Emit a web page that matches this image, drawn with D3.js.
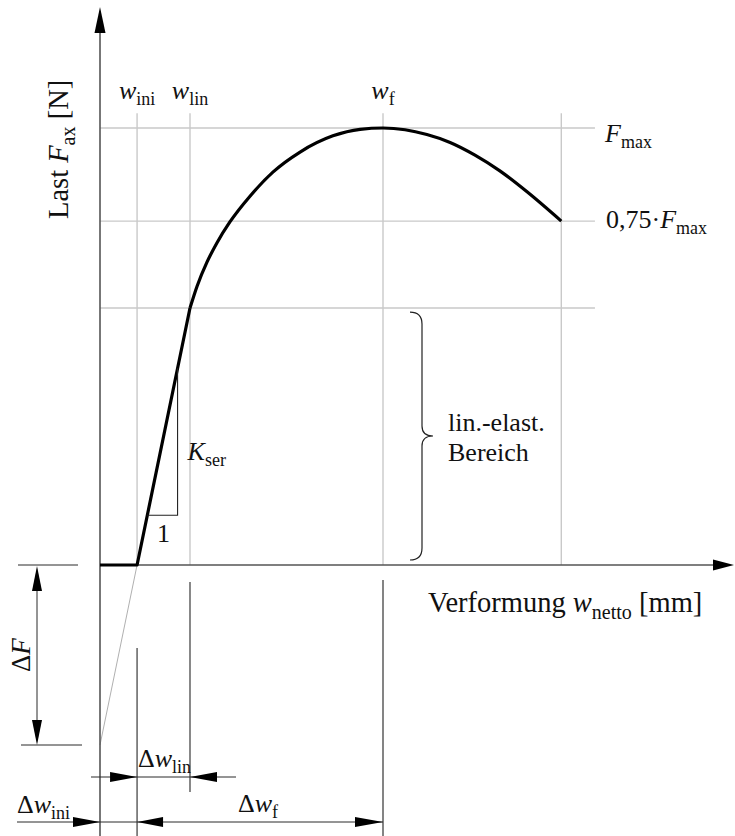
<!DOCTYPE html>
<html>
<head>
<meta charset="utf-8">
<script src="https://cdn.jsdelivr.net/npm/d3@7"></script>
<style>
  body { margin: 0; background: #fff; }
  svg text { font-family: "Liberation Serif", "Times New Roman", "DejaVu Serif", serif; fill: #111; }
</style>
</head>
<body>
<svg id="chart"></svg>
<script>
// Schematic load–displacement curve of an axially loaded connection.
// w: net deformation (relative units, w_f = 10), F: load in % of F_max.
const curveW = [0, 1.31, 3.18, 3.43, 3.78, 4.13, 4.59, 5.30, 6.11, 7.07, 8.23, 9.19, 10.0,
                10.78, 11.55, 12.37, 13.25, 14.13, 15.09, 16.3];
const curveF = [0, 0, 58.8, 63.8, 69.3, 73.7, 78.5, 84.4, 89.9, 94.5, 98.2, 99.7, 100,
                99.6, 98.5, 96.7, 93.8, 90.2, 85.4, 78.7];

// Characteristic deformations: w_ini, w_lin, w_f and the end of the curve
const wKeys = ["ini", "lin", "f"];
const wValues = [1.31, 3.18, 10.0];
const wLast = 16.3;

// Characteristic load levels: F_max, 0,75·F_max, end of the linear-elastic range
const levelKeys = ["max", "075", "lin"];
const levelF = [100, 78.7, 58.8];

const W = 735, H = 836;
const svg = d3.select("#chart").attr("width", W).attr("height", H)
  .attr("font-family", "'Liberation Serif', 'Times New Roman', serif");

const x = d3.scaleLinear().domain([0, 10]).range([100, 383]);
const y = d3.scaleLinear().domain([0, 100]).range([565, 128]);

const gridColor = "#c9c9c9";
const axisColor = "#555";
const dimColor = "#2a2a2a";

// Rich text helper: parts = [[text, italic, sub], ...]
function rich(g, px, py, parts, opts = {}) {
  const size = opts.size || 26, subSize = opts.subSize || 18, shift = opts.shift || 6;
  const t = g.append("text").attr("text-anchor", opts.anchor || "start").style("font-size", size + "px");
  if (opts.transform) t.attr("transform", opts.transform); else t.attr("x", px).attr("y", py);
  let shifted = false;
  parts.forEach(([s, it, sub]) => {
    const ts = t.append("tspan").text(s);
    if (it) ts.style("font-style", "italic");
    if (sub) { ts.style("font-size", subSize + "px"); if (!shifted) { ts.attr("dy", shift); shifted = true; } }
    else if (shifted) { ts.attr("dy", -shift); shifted = false; }
  });
  return t;
}

// Filled arrow head, tip at (tx, ty)
function arrowHead(g, tx, ty, dir, len = 26, half = 5) {
  const d = {
    up:    [[tx, ty], [tx - half, ty + len], [tx + half, ty + len]],
    down:  [[tx, ty], [tx - half, ty - len], [tx + half, ty - len]],
    left:  [[tx, ty], [tx + len, ty - half], [tx + len, ty + half]],
    right: [[tx, ty], [tx - len, ty - half], [tx - len, ty + half]]
  }[dir];
  g.append("path").attr("d", "M" + d.join("L") + "Z").attr("fill", "#000");
}

function line(g, x1, y1, x2, y2, color, width) {
  g.append("line").attr("x1", x1).attr("y1", y1).attr("x2", x2).attr("y2", y2)
    .attr("stroke", color).attr("stroke-width", width);
}

// ---- grid lines ----
const grid = svg.append("g");
const gridRight = 17.49, gridTop = 103.4;
levelF.forEach(f => line(grid, x(0), y(f), x(gridRight), y(f), gridColor, 1.4));
wValues.concat([wLast]).forEach(w => line(grid, x(w), y(gridTop), x(w), y(0), gridColor, 1.4));

// Extension of the linear branch down to w = 0 (offset ΔF)
const slope = levelF[2] / (wValues[1] - wValues[0]);
const fAtZero = levelF[2] - slope * wValues[1];
line(grid, x(wValues[0]), y(0), x(0), y(fAtZero), "#b0b0b0", 1);

// ---- axes ----
const axes = svg.append("g");
line(axes, x(0), H, x(0), 20, axisColor, 1.6);
arrowHead(axes, x(0), 7, "up", 26, 5.5);
line(axes, x(0), y(0), 720, y(0), axisColor, 1.6);
arrowHead(axes, 734, y(0), "right", 21, 5.5);

// ---- curve ----
const pts = curveW.map((w, i) => [w, curveF[i]]);
const straight = d3.line().x(d => x(d[0])).y(d => y(d[1]));
const smooth = d3.line().x(d => x(d[0])).y(d => y(d[1])).curve(d3.curveMonotoneX);
const curveG = svg.append("g").attr("fill", "none").attr("stroke", "#000")
  .attr("stroke-width", 3.2).attr("stroke-linejoin", "round");
curveG.append("path").attr("d", straight(pts.slice(0, 3)));
curveG.append("path").attr("d", smooth(pts.slice(2)));

// Slope triangle K_ser / 1
const tri = svg.append("g");
const fTop = 45, fBot = 11.4;
const wTop = wValues[0] + fTop / slope, wBot = wValues[0] + fBot / slope;
tri.append("path")
  .attr("d", `M${x(wTop)},${y(fTop)}L${x(wTop)},${y(fBot)}L${x(wBot)},${y(fBot)}`)
  .attr("fill", "none").attr("stroke", "#222").attr("stroke-width", 1.1);
rich(tri, x(wTop) + 10, y(fTop) + 92, [["K", true], ["ser", false, true]]);
rich(tri, (x(wTop) + x(wBot)) / 2 + 1, y(fBot) + 27, [["1"]], { anchor: "middle" });

// ---- labels above the grid ----
const topLabels = svg.append("g");
wKeys.forEach((k, i) => rich(topLabels, x(wValues[i]), 99, [["w", true], [k, false, true]], { anchor: "middle" }));

// Load levels on the right
const rightLabels = svg.append("g");
rich(rightLabels, 605, y(levelF[0]) + 14, [["F", true], ["max", false, true]]);
rich(rightLabels, 606, y(levelF[1]) + 7, [["0,75·"], ["F", true], ["max", false, true]]);

// Brace for the linear-elastic range
const bTop = y(levelF[2]) + 4, bBot = y(0) - 5, bMid = (bTop + bBot) / 2;
const bx = 410, bs = 422, bt = 433;
svg.append("path")
  .attr("d", `M${bx},${bTop}Q${bs},${bTop} ${bs},${bTop + 12}L${bs},${bMid - 10}Q${bs},${bMid} ${bt},${bMid}` +
             `Q${bs},${bMid} ${bs},${bMid + 10}L${bs},${bBot - 12}Q${bs},${bBot} ${bx},${bBot}`)
  .attr("fill", "none").attr("stroke", "#222").attr("stroke-width", 1.2);
rich(svg, 448, bMid - 5, [["lin.-elast."]]);
rich(svg, 448, bMid + 25, [["Bereich"]]);

// Axis titles
const titleOpts = { size: 28.5, subSize: 20, shift: 7 };
rich(svg, 428, 612, [["Verformung "], ["w", true], ["netto", false, true], [" [mm]"]], titleOpts);
rich(svg, 0, 0, [["Last "], ["F", true], ["ax", false, true], [" [N]"]],
  Object.assign({ transform: "translate(68,219) rotate(-90)" }, titleOpts));

// ---- dimension lines below the axis ----
const dim = svg.append("g");
// reference lines
line(dim, x(wValues[1]), 582, x(wValues[1]), 792, axisColor, 1.4);
line(dim, x(wValues[0]), 648, x(wValues[0]), H, axisColor, 1.4);
line(dim, x(wValues[2]), 580, x(wValues[2]), H, "#777", 1.8);

// ΔF
const yF0 = y(0), yF1 = y(fAtZero);
line(dim, 18, yF0, 78, yF0, dimColor, 1);
line(dim, 21, yF1, 82, yF1, dimColor, 1);
line(dim, 37, yF0 + 20, 37, yF1 - 20, dimColor, 1);
arrowHead(dim, 37, yF0 + 1, "up", 25, 5);
arrowHead(dim, 37, yF1, "down", 25, 5);
rich(dim, 0, 0, [["Δ"], ["F", true]], { size: 27, transform: "translate(30,672) rotate(-90)" });

// Δw_lin
const yLin = 777;
line(dim, 91, yLin, 236, yLin, dimColor, 1);
arrowHead(dim, x(wValues[0]), yLin, "right", 27, 5);
arrowHead(dim, x(wValues[1]), yLin, "left", 27, 5);
rich(dim, 138, 767, [["Δ"], ["w", true], ["lin", false, true]]);

// Δw_ini and Δw_f
const yIni = 822;
line(dim, 17, yIni, x(wValues[2]), yIni, dimColor, 1);
arrowHead(dim, x(0), yIni, "right", 27, 5);
arrowHead(dim, x(wValues[0]), yIni, "left", 26, 5);
arrowHead(dim, x(wValues[2]), yIni, "right", 28, 5);
rich(dim, 17, 813, [["Δ"], ["w", true], ["ini", false, true]]);
rich(dim, 238, 812, [["Δ"], ["w", true], ["f", false, true]]);
</script>
</body>
</html>
